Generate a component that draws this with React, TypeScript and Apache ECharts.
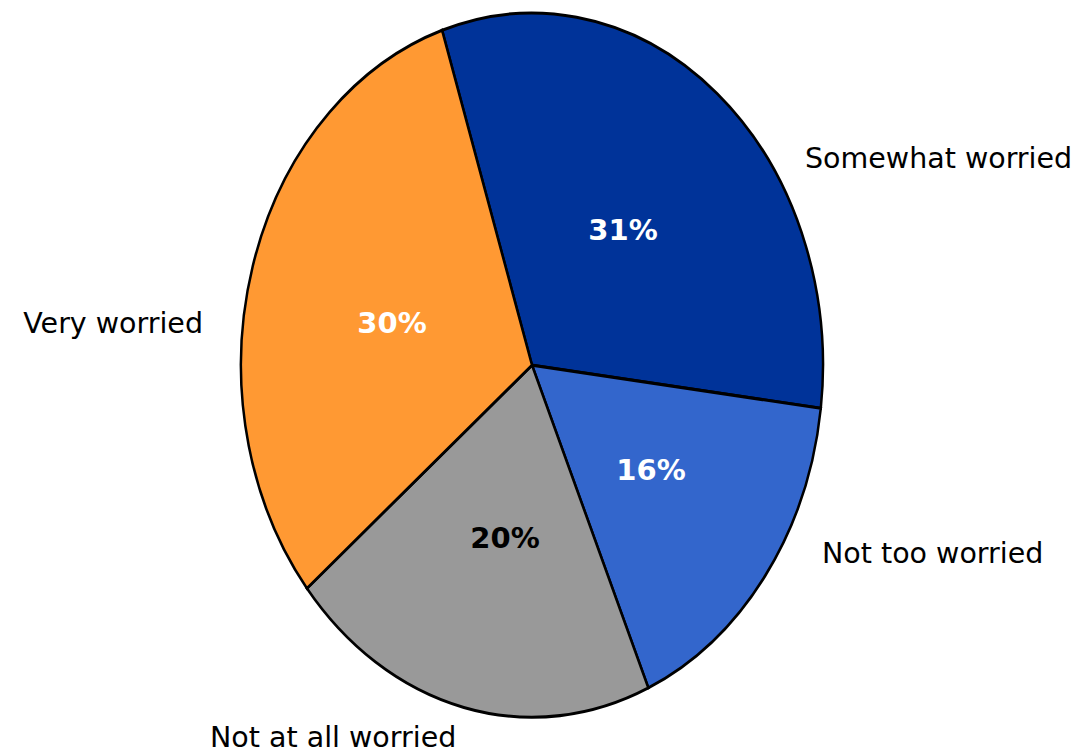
import React, { useEffect, useRef } from "react";
import * as echarts from "echarts";

const categories = ["Somewhat worried", "Not too worried", "Not at all worried", "Very worried"];
const values = [31, 16, 20, 30];
const colors = ["#003399", "#3366CC", "#999999", "#FF9933"];
const pctColors = ["#FFFFFF", "#FFFFFF", "#000000", "#FFFFFF"];

// layout (pixels)
const CX = 532;
const CY = 365;
const RX = 291;
const RY = 352;
const START_DEG = -18; // clockwise from 12 o'clock
const outerLabelPos: [number, number, "left" | "right"][] = [
  [805, 158, "left"],
  [822, 553, "left"],
  [210, 737, "left"],
  [203, 323, "right"],
];
const innerLabelPos: [number, number][] = [
  [623, 230],
  [651, 470],
  [505, 538],
  [392, 323],
];

const FONT = "Verdana, 'DejaVu Sans', sans-serif";

export default function App() {
  const ref = useRef<HTMLDivElement>(null);
  useEffect(() => {
    if (!ref.current) return;
    const chart = echarts.init(ref.current, undefined, { renderer: "svg" });
    const total = values.reduce((a, b) => a + b, 0);
    const option: any = {
      animation: false,
      backgroundColor: "#ffffff",
      series: [
        {
          type: "custom",
          coordinateSystem: "none",
          data: values.map((v, i) => ({ name: categories[i], value: v })),
          renderItem: (params: any, api: any) => {
            const i = params.dataIndex;
            let before = 0;
            for (let k = 0; k < i; k++) before += values[k];
            const a0 = START_DEG + (before / total) * 360;
            const a1 = a0 + (values[i] / total) * 360;
            const toRad = (d: number) => ((d - 90) * Math.PI) / 180;
            const [ox, oy, align] = outerLabelPos[i];
            const [ix, iy] = innerLabelPos[i];
            return {
              type: "group",
              children: [
                {
                  type: "sector",
                  shape: {
                    cx: CX,
                    cy: CY,
                    r0: 0,
                    r: RX,
                    startAngle: toRad(a0),
                    endAngle: toRad(a1),
                    clockwise: true,
                  },
                  originX: CX,
                  originY: CY,
                  scaleY: RY / RX,
                  style: {
                    fill: colors[i],
                    stroke: "#000000",
                    lineWidth: 2.5,
                    strokeNoScale: true,
                  },
                },
                {
                  type: "text",
                  x: ix,
                  y: iy,
                  style: {
                    text: values[i] + "%",
                    fill: pctColors[i],
                    font: `bold 29px ${FONT}`,
                    align: "center",
                    verticalAlign: "middle",
                  },
                },
                {
                  type: "text",
                  x: ox,
                  y: oy,
                  style: {
                    text: categories[i],
                    fill: "#000000",
                    font: `28.5px ${FONT}`,
                    align: align,
                    verticalAlign: "middle",
                  },
                },
              ],
            };
          },
        },
      ],
    };
    chart.setOption(option);
    return () => chart.dispose();
  }, []);
  return (
    <div
      ref={ref}
      style={{ position: "absolute", left: 0, top: 0, width: 1082, height: 756 }}
    />
  );
}
